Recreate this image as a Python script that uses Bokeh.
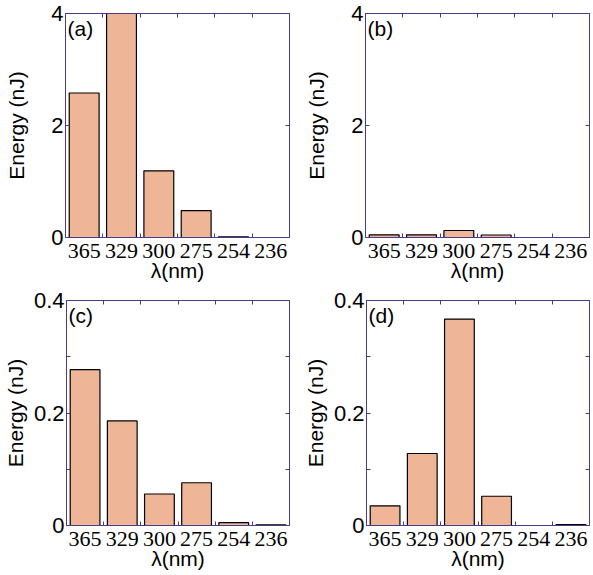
from bokeh.plotting import figure
from bokeh.layouts import column, row
from bokeh.models import Range1d, LinearAxis, FixedTicker, ColumnDataSource, Label
from bokeh.embed import file_html
from bokeh.resources import INLINE
import numpy as np

categories = ["365", "329", "300", "275", "254", "236"]
energy_a = [2.58, 4.0, 1.19, 0.48, 0.012, 0.0]
energy_b = [0.048, 0.048, 0.125, 0.045, 0.0, 0.0]
energy_c = [0.277, 0.186, 0.056, 0.076, 0.005, 0.0012]
energy_d = [0.035, 0.128, 0.367, 0.052, 0.0, 0.0018]
panel_letters = ["(a)", "(b)", "(c)", "(d)"]
y_max_top, y_ticks_top, y_minor_top = 4, [0, 2, 4], []
y_max_bot, y_ticks_bot, y_minor_bot = 0.4, [0, 0.2, 0.4], [0.1, 0.3]
y_labels_bot = {0: "0", 0.2: "0.2", 0.4: "0.4"}

FRAME = "#4B3A8C"
BAR = "#EEB596"
SANS = "Liberation Sans"
SERIF = "Liberation Serif"


def make_panel(values, letter, ymax, yticks, yminor, ylabels, width, height,
               left_border, right_border, top_border, bottom_border, label_standoff):
    n = len(categories)
    idx = np.arange(n)
    centers = idx + 0.5
    bounds = list(idx[1:].astype(float))
    p = figure(width=width, height=height,
               x_range=Range1d(0, n), y_range=Range1d(0, ymax),
               output_backend="svg", toolbar_location=None,
               min_border_left=left_border, min_border_right=right_border,
               min_border_top=top_border, min_border_bottom=bottom_border,
               background_fill_color="white", border_fill_color="white")
    p.xgrid.visible = False
    p.ygrid.visible = False
    p.outline_line_color = FRAME
    p.outline_line_width = 1

    vals = np.array(values, dtype=float)
    keep = vals > 0
    src = ColumnDataSource(dict(x=centers[keep], top=vals[keep]))
    p.vbar(x="x", top="top", bottom=0, width=0.8, source=src,
           fill_color=BAR, line_color="black", line_width=1.2)

    xa = p.xaxis[0]
    xa.ticker = FixedTicker(ticks=list(centers), minor_ticks=bounds)
    xa.major_label_overrides = {float(c): cat for c, cat in zip(centers, categories)}
    xa.major_tick_in = 0
    xa.major_tick_out = 0
    xa.minor_tick_in = 4
    xa.minor_tick_out = 0
    xa.minor_tick_line_color = FRAME
    xa.axis_line_color = FRAME
    xa.major_label_text_font = SERIF
    xa.major_label_text_font_size = "22px"
    xa.major_label_text_color = "black"
    xa.major_label_standoff = 6
    xa.axis_label = "λ(nm)"
    xa.axis_label_text_font = SANS
    xa.axis_label_text_font_size = "21px"
    xa.axis_label_text_font_style = "normal"
    xa.axis_label_text_color = "black"
    xa.axis_label_standoff = -2

    ya = p.yaxis[0]
    ya.ticker = FixedTicker(ticks=yticks, minor_ticks=yminor)
    if ylabels:
        ya.major_label_overrides = ylabels
    ya.major_tick_in = 4
    ya.major_tick_out = 0
    ya.minor_tick_in = 4
    ya.minor_tick_out = 0
    ya.major_tick_line_color = FRAME
    ya.minor_tick_line_color = FRAME
    ya.axis_line_color = FRAME
    ya.major_label_text_font = SANS
    ya.major_label_text_font_size = "22px"
    ya.major_label_text_color = "black"
    ya.major_label_standoff = 2
    ya.axis_label = "Energy (nJ)"
    ya.axis_label_text_font = SANS
    ya.axis_label_text_font_size = "21px"
    ya.axis_label_text_font_style = "normal"
    ya.axis_label_text_color = "black"
    ya.axis_label_standoff = label_standoff

    # top and right axes: tick marks only (all as minor ticks, so no labels)
    top = LinearAxis(ticker=FixedTicker(ticks=[], minor_ticks=bounds),
                     major_tick_in=0, major_tick_out=0, minor_tick_in=4, minor_tick_out=0,
                     minor_tick_line_color=FRAME, axis_line_color=FRAME,
                     major_label_standoff=0)
    right = LinearAxis(ticker=FixedTicker(ticks=[], minor_ticks=sorted(list(yticks[1:-1]) + list(yminor))),
                       major_tick_in=0, major_tick_out=0, minor_tick_in=4, minor_tick_out=0,
                       minor_tick_line_color=FRAME, axis_line_color=FRAME,
                       major_label_standoff=0)
    p.add_layout(top, "above")
    p.add_layout(right, "right")

    p.add_layout(Label(x=p.x_range.start, y=p.y_range.end, x_offset=2, y_offset=-3,
                       text=letter, text_baseline="top", text_align="left",
                       text_font=SANS, text_font_size="21px", text_color="black"))
    return p


pa = make_panel(energy_a, panel_letters[0], y_max_top, y_ticks_top, y_minor_top, None,
                300, 288, 65, 11, 13, 51, 20)
pb = make_panel(energy_b, panel_letters[1], y_max_top, y_ticks_top, y_minor_top, None,
                292, 288, 65, 3, 13, 51, 20)
pc = make_panel(energy_c, panel_letters[2], y_max_bot, y_ticks_bot, y_minor_bot, y_labels_bot,
                300, 287, 65, 11, 12, 50, 4)
pd = make_panel(energy_d, panel_letters[3], y_max_bot, y_ticks_bot, y_minor_bot, y_labels_bot,
                292, 287, 65, 3, 12, 50, 4)

layout = column(row(pa, pb, spacing=0), row(pc, pd, spacing=0), spacing=0)
open("out.html", "w").write(file_html(layout, INLINE))
